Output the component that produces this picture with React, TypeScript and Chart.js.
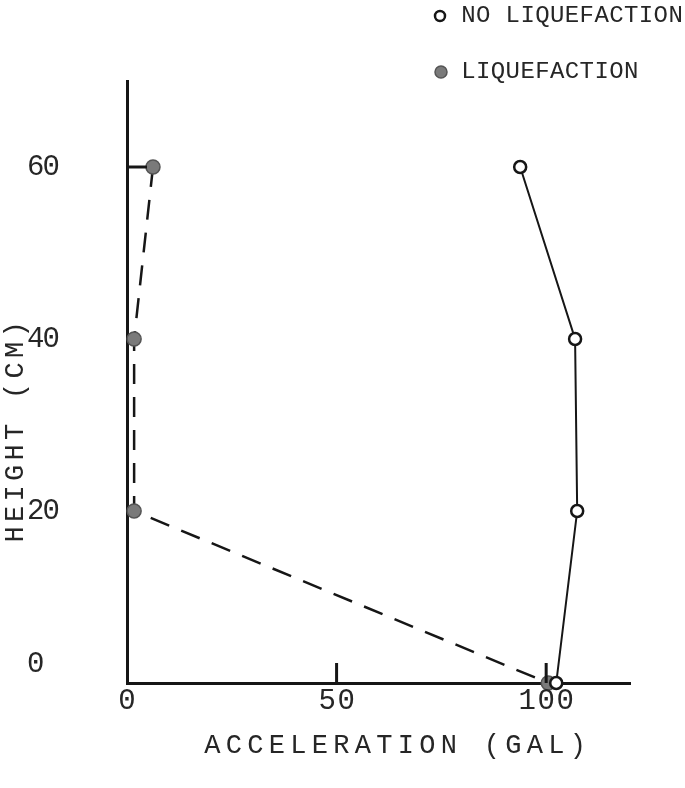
import React, { useEffect, useRef } from "react";
import { Chart, registerables } from "chart.js";
Chart.register(...registerables);

const heights = [60, 40, 20, 0];
const noLiqAccel = [93.8, 106.9, 107.4, 102.4];
const liqAccel = [6.2, 1.7, 1.7, 100.5];
const xTicks = [0, 50, 100];
const yTicks = [0, 20, 40, 60];
const xTickMarks = [50, 100];
const yTickMarks = [60];
const xTitle = "ACCELERATION (GAL)";
const yTitle = "HEIGHT (CM)";
const legendLabels = ["NO LIQUEFACTION", "LIQUEFACTION"];

const FONT = '"Liberation Mono", "DejaVu Sans Mono", monospace';
const INK = "#161616";
const TEXT = "#262626";
const GRAY = "#7a7a7a";

function drawSpaced(ctx: CanvasRenderingContext2D, text: string, x: number, y: number, pitch: number, align: "left" | "center" = "left") {
  const total = text.length * pitch;
  const start = align === "center" ? x - total / 2 : x;
  ctx.textAlign = "center";
  ctx.textBaseline = "middle";
  for (let i = 0; i < text.length; i++) {
    ctx.fillText(text[i], start + i * pitch + pitch / 2, y);
  }
}

const decor = {
  id: "decor",
  afterDraw(chart: any) {
    const ctx: CanvasRenderingContext2D = chart.ctx;
    const xs = chart.scales.x;
    const ys = chart.scales.y;
    ctx.save();
    ctx.strokeStyle = INK;
    ctx.lineWidth = 3;
    xTickMarks.forEach((v) => {
      const px = xs.getPixelForValue(v);
      ctx.beginPath();
      ctx.moveTo(px, ys.bottom);
      ctx.lineTo(px, ys.bottom - 20);
      ctx.stroke();
    });
    yTickMarks.forEach((v) => {
      const py = ys.getPixelForValue(v);
      ctx.beginPath();
      ctx.moveTo(xs.left, py);
      ctx.lineTo(xs.left + 20, py);
      ctx.stroke();
    });

    ctx.fillStyle = TEXT;
    // tick labels
    ctx.font = `29px ${FONT}`;
    xTicks.forEach((v) => {
      const px = xs.getPixelForValue(v);
      drawSpaced(ctx, String(v), px, 701, 19, "center");
    });
    yTicks.forEach((v) => {
      const py = ys.getPixelForValue(v) - (v === 0 ? 19 : 0);
      drawSpaced(ctx, String(v), 28, py, 15.5, "left");
    });

    // axis titles
    ctx.font = `27px ${FONT}`;
    drawSpaced(ctx, xTitle, 395, 746, 21.5, "center");
    ctx.save();
    ctx.translate(16, 432);
    ctx.rotate(-Math.PI / 2);
    drawSpaced(ctx, yTitle, 0, 0, 20.5, "center");
    ctx.restore();

    // legend
    ctx.lineWidth = 2.5;
    ctx.strokeStyle = INK;
    ctx.fillStyle = "#fff";
    ctx.beginPath();
    ctx.arc(440, 16, 5, 0, Math.PI * 2);
    ctx.fill();
    ctx.stroke();
    ctx.fillStyle = GRAY;
    ctx.strokeStyle = "#555";
    ctx.lineWidth = 1.5;
    ctx.beginPath();
    ctx.arc(441, 72, 6, 0, Math.PI * 2);
    ctx.fill();
    ctx.stroke();
    ctx.fillStyle = TEXT;
    ctx.font = `24px ${FONT}`;
    drawSpaced(ctx, legendLabels[0], 461, 16, 14.8, "left");
    drawSpaced(ctx, legendLabels[1], 461, 72, 14.8, "left");
    ctx.restore();
  },
};

export default function App() {
  const ref = useRef<HTMLCanvasElement | null>(null);
  useEffect(() => {
    if (!ref.current) return;
    const chart = new Chart(ref.current, {
      type: "scatter",
      data: {
        datasets: [
          {
            label: legendLabels[1],
            data: heights.map((h, i) => ({ x: liqAccel[i], y: h })),
            showLine: true,
            borderColor: INK,
            borderWidth: 2.5,
            borderDash: [20, 13],
            backgroundColor: GRAY,
            pointBackgroundColor: GRAY,
            pointBorderColor: "#555",
            pointBorderWidth: 1.5,
            pointRadius: 7,
            clip: false as any,
            order: 2,
          },
          {
            label: legendLabels[0],
            data: heights.map((h, i) => ({ x: noLiqAccel[i], y: h })),
            showLine: true,
            borderColor: INK,
            borderWidth: 2,
            backgroundColor: "#fff",
            pointBackgroundColor: "#fff",
            pointBorderColor: INK,
            pointBorderWidth: 2.5,
            pointRadius: 6,
            clip: false as any,
            order: 1,
          },
        ],
      },
      options: {
        responsive: false,
        animation: false,
        events: [],
        layout: { padding: { left: 0, top: 81, right: 55, bottom: 0 } },
        plugins: { legend: { display: false }, tooltip: { enabled: false } },
        scales: {
          x: {
            type: "linear",
            min: 0,
            max: 120,
            grid: { display: false },
            border: { display: true, color: INK, width: 3 },
            ticks: { display: false },
            afterBuildTicks: (s: any) => {
              s.ticks = xTicks.map((v) => ({ value: v }));
            },
            afterFit: (s: any) => {
              s.height = 105;
            },
          },
          y: {
            type: "linear",
            min: 0,
            max: 70,
            grid: { display: false },
            border: { display: true, color: INK, width: 3 },
            ticks: { display: false },
            afterBuildTicks: (s: any) => {
              s.ticks = yTicks.map((v) => ({ value: v }));
            },
            afterFit: (s: any) => {
              s.width = 127;
            },
          },
        },
      },
      plugins: [decor],
    });
    return () => chart.destroy();
  }, []);
  return (
    <div style={{ position: "fixed", left: 0, top: 0, width: 685, height: 788, background: "#fff" }}>
      <canvas ref={ref} width={685} height={788} style={{ display: "block" }} />
    </div>
  );
}
